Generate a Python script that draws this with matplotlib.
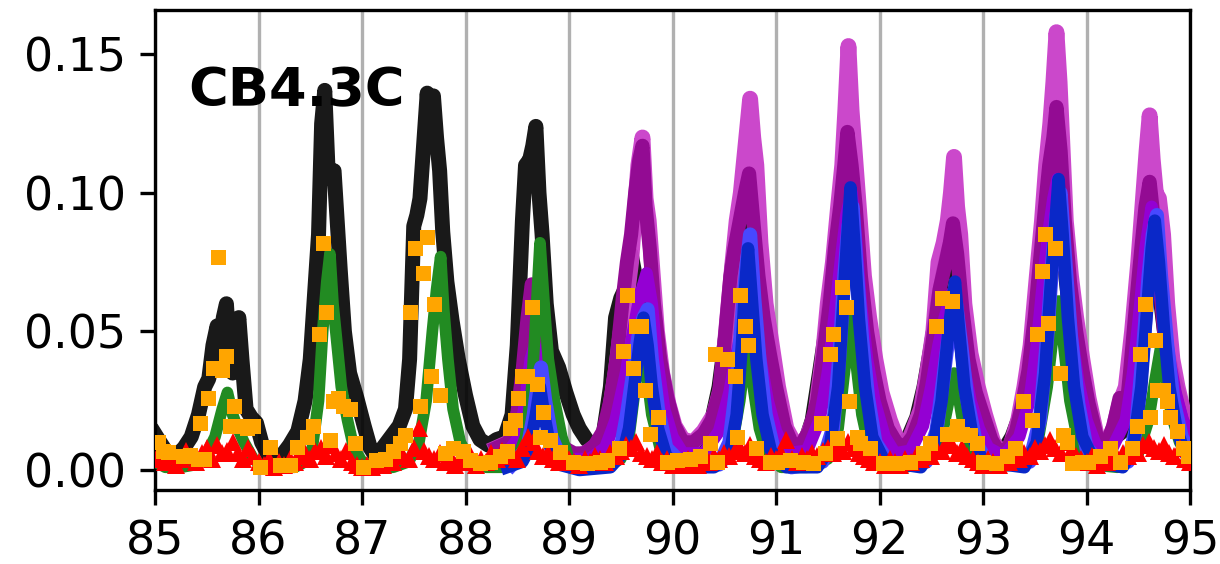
import numpy as np
import matplotlib
matplotlib.use("Agg")
import matplotlib.pyplot as plt

# Black trace
black_x = [85.00, 85.05, 85.12, 85.20, 85.28, 85.35, 85.42, 85.48, 85.52, 85.56, 85.60, 85.63, 85.66,
           85.69, 85.72, 85.75, 85.78, 85.81, 85.84, 85.88, 85.93, 85.98, 86.03, 86.10, 86.20, 86.30,
           86.38, 86.45, 86.50, 86.55, 86.58, 86.61, 86.64, 86.67, 86.70, 86.73, 86.76, 86.79, 86.83,
           86.88, 86.95, 87.02, 87.08, 87.13, 87.20, 87.28, 87.36, 87.42, 87.46, 87.50, 87.53, 87.56,
           87.60, 87.63, 87.66, 87.69, 87.72, 87.75, 87.78, 87.82, 87.87, 87.93, 88.00, 88.07, 88.14,
           88.22, 88.30, 88.38, 88.45, 88.50, 88.55, 88.58, 88.62, 88.65, 88.68, 88.71, 88.74, 88.78,
           88.83, 88.90, 88.97, 89.04, 89.10, 89.17, 89.25, 89.32, 89.40, 89.45, 89.50, 89.55, 89.60,
           89.64, 89.70, 89.76, 89.82, 89.88, 89.95, 90.02, 90.10, 90.20, 90.30, 90.38, 90.45, 90.52,
           90.58, 90.63, 90.68, 90.72, 90.76, 90.80, 90.86, 90.92, 90.98, 91.05, 91.12, 91.20, 91.28,
           91.35, 91.42, 91.48, 91.55, 91.60, 91.65, 91.69, 91.73, 91.78, 91.84, 91.90, 91.97, 92.04,
           92.12, 92.20, 92.28, 92.36, 92.43, 92.50, 92.56, 92.62, 92.67, 92.71, 92.75, 92.80, 92.86,
           92.92, 92.98, 93.05, 93.13, 93.20, 93.28, 93.36, 93.43, 93.48, 93.53, 93.58, 93.63, 93.67,
           93.71, 93.75, 93.80, 93.86, 93.92, 93.98, 94.05, 94.12, 94.20, 94.28, 94.35, 94.42, 94.48,
           94.54, 94.59, 94.63, 94.67, 94.72, 94.77, 94.82, 94.86, 94.90, 94.95, 95.00]
black_y = [0.013, 0.010, 0.006, 0.005, 0.008, 0.012, 0.020, 0.030, 0.033, 0.045, 0.052, 0.040, 0.055,
           0.060, 0.042, 0.035, 0.048, 0.055, 0.040, 0.022, 0.019, 0.017, 0.010, 0.005, 0.004, 0.009,
           0.014, 0.025, 0.040, 0.068, 0.085, 0.125, 0.137, 0.110, 0.105, 0.108, 0.090, 0.072, 0.050,
           0.035, 0.026, 0.016, 0.008, 0.005, 0.008, 0.012, 0.016, 0.022, 0.040, 0.088, 0.092, 0.098,
           0.120, 0.136, 0.118, 0.135, 0.120, 0.108, 0.086, 0.068, 0.054, 0.040, 0.027, 0.016, 0.011,
           0.009, 0.011, 0.012, 0.020, 0.045, 0.090, 0.110, 0.112, 0.117, 0.124, 0.100, 0.085, 0.060,
           0.043, 0.037, 0.028, 0.020, 0.015, 0.011, 0.008, 0.010, 0.030, 0.055, 0.062, 0.066, 0.078,
           0.070, 0.060, 0.045, 0.036, 0.030, 0.020, 0.013, 0.009, 0.008, 0.012, 0.018, 0.030, 0.050,
           0.075, 0.085, 0.088, 0.092, 0.075, 0.060, 0.045, 0.036, 0.028, 0.018, 0.010, 0.007, 0.010,
           0.018, 0.035, 0.050, 0.070, 0.085, 0.095, 0.105, 0.090, 0.070, 0.050, 0.036, 0.025, 0.015,
           0.010, 0.008, 0.012, 0.019, 0.030, 0.045, 0.060, 0.072, 0.080, 0.085, 0.070, 0.052, 0.038,
           0.028, 0.020, 0.012, 0.007, 0.007, 0.012, 0.020, 0.028, 0.032, 0.050, 0.070, 0.090, 0.100,
           0.112, 0.095, 0.070, 0.050, 0.035, 0.025, 0.015, 0.010, 0.008, 0.012, 0.014, 0.030, 0.050,
           0.070, 0.085, 0.090, 0.082, 0.060, 0.045, 0.036, 0.031, 0.026, 0.020, 0.016]

# Light magenta trace
magenta_x = [88.30, 88.42, 88.50, 88.56, 88.60, 88.64, 88.68, 88.72, 88.76, 88.82, 88.90, 89.00, 89.10,
             89.20, 89.30, 89.38, 89.45, 89.50, 89.55, 89.60, 89.64, 89.67, 89.71, 89.74, 89.77, 89.80,
             89.85, 89.90, 89.96, 90.02, 90.10, 90.20, 90.30, 90.40, 90.47, 90.53, 90.58, 90.62, 90.66,
             90.70, 90.75, 90.78, 90.81, 90.85, 90.90, 90.96, 91.02, 91.10, 91.20, 91.30, 91.38, 91.45,
             91.50, 91.55, 91.60, 91.64, 91.67, 91.70, 91.73, 91.76, 91.80, 91.85, 91.90, 91.96, 92.02,
             92.10, 92.18, 92.25, 92.32, 92.40, 92.46, 92.52, 92.57, 92.62, 92.66, 92.69, 92.72, 92.75,
             92.78, 92.82, 92.88, 92.95, 93.02, 93.10, 93.18, 93.26, 93.34, 93.40, 93.46, 93.52, 93.57,
             93.61, 93.65, 93.68, 93.71, 93.74, 93.77, 93.80, 93.85, 93.90, 93.96, 94.02, 94.10, 94.18,
             94.26, 94.32, 94.38, 94.44, 94.50, 94.55, 94.58, 94.61, 94.64, 94.67, 94.70, 94.74, 94.78,
             94.83, 94.88, 94.93, 95.00]
magenta_y = [0.008, 0.010, 0.018, 0.030, 0.045, 0.052, 0.055, 0.045, 0.035, 0.020, 0.010, 0.006, 0.005,
             0.007, 0.010, 0.018, 0.035, 0.050, 0.060, 0.075, 0.095, 0.110, 0.120, 0.098, 0.090, 0.075,
             0.050, 0.035, 0.024, 0.016, 0.011, 0.010, 0.014, 0.020, 0.030, 0.055, 0.075, 0.090, 0.100,
             0.115, 0.134, 0.120, 0.110, 0.082, 0.060, 0.045, 0.030, 0.015, 0.008, 0.012, 0.020, 0.040,
             0.060, 0.075, 0.095, 0.110, 0.130, 0.153, 0.130, 0.115, 0.095, 0.070, 0.055, 0.040, 0.028,
             0.018, 0.010, 0.008, 0.014, 0.022, 0.035, 0.050, 0.075, 0.082, 0.090, 0.100, 0.113, 0.095,
             0.085, 0.060, 0.042, 0.030, 0.020, 0.010, 0.006, 0.008, 0.018, 0.030, 0.045, 0.070, 0.090,
             0.110, 0.125, 0.140, 0.158, 0.140, 0.115, 0.090, 0.070, 0.055, 0.040, 0.026, 0.012, 0.008,
             0.015, 0.024, 0.030, 0.050, 0.075, 0.100, 0.115, 0.128, 0.112, 0.100, 0.098, 0.085, 0.060,
             0.040, 0.030, 0.022, 0.015]

# Dark purple trace
purple_x = [88.30, 88.42, 88.50, 88.55, 88.60, 88.64, 88.68, 88.72, 88.78, 88.85, 88.95, 89.05, 89.15,
            89.25, 89.33, 89.40, 89.46, 89.52, 89.56, 89.60, 89.64, 89.68, 89.71, 89.74, 89.78, 89.82,
            89.88, 89.95, 90.02, 90.10, 90.20, 90.30, 90.38, 90.45, 90.50, 90.56, 90.60, 90.65, 90.70,
            90.74, 90.78, 90.83, 90.88, 90.94, 91.00, 91.08, 91.16, 91.24, 91.32, 91.40, 91.46, 91.52,
            91.57, 91.62, 91.66, 91.69, 91.73, 91.77, 91.82, 91.88, 91.94, 92.00, 92.08, 92.16, 92.24,
            92.32, 92.40, 92.46, 92.52, 92.58, 92.64, 92.68, 92.71, 92.75, 92.80, 92.86, 92.93, 93.00,
            93.08, 93.16, 93.24, 93.32, 93.38, 93.44, 93.50, 93.55, 93.60, 93.64, 93.68, 93.71, 93.75,
            93.79, 93.84, 93.90, 93.96, 94.02, 94.10, 94.18, 94.26, 94.32, 94.38, 94.42, 94.48, 94.53,
            94.57, 94.61, 94.65, 94.70, 94.75, 94.80, 94.86, 94.92, 95.00]
purple_y = [0.008, 0.010, 0.020, 0.035, 0.055, 0.067, 0.060, 0.040, 0.025, 0.014, 0.008, 0.006, 0.006,
            0.009, 0.014, 0.025, 0.040, 0.062, 0.075, 0.085, 0.100, 0.112, 0.117, 0.095, 0.080, 0.060,
            0.040, 0.026, 0.016, 0.010, 0.010, 0.013, 0.018, 0.028, 0.045, 0.070, 0.080, 0.090, 0.100,
            0.107, 0.090, 0.070, 0.055, 0.042, 0.030, 0.016, 0.009, 0.009, 0.014, 0.025, 0.042, 0.060,
            0.080, 0.095, 0.110, 0.122, 0.110, 0.095, 0.070, 0.050, 0.036, 0.025, 0.015, 0.010, 0.008,
            0.012, 0.020, 0.032, 0.048, 0.065, 0.075, 0.082, 0.089, 0.078, 0.058, 0.040, 0.028, 0.020,
            0.011, 0.006, 0.008, 0.014, 0.024, 0.036, 0.055, 0.075, 0.095, 0.110, 0.120, 0.131, 0.115,
            0.090, 0.068, 0.050, 0.036, 0.024, 0.012, 0.008, 0.016, 0.026, 0.020, 0.035, 0.060, 0.080,
            0.095, 0.104, 0.090, 0.070, 0.050, 0.036, 0.026, 0.018, 0.012]

# Violet trace
violet_x = [88.40, 88.52, 88.58, 88.63, 88.67, 88.71, 88.76, 88.85, 89.00, 89.20, 89.35, 89.45, 89.55,
            89.62, 89.68, 89.75, 89.80, 89.85, 89.92, 90.00, 90.10, 90.30, 90.45, 90.55, 90.62, 90.68,
            90.74, 90.79, 90.85, 90.92, 91.00, 91.10, 91.30, 91.42, 91.50, 91.58, 91.64, 91.68, 91.73,
            91.77, 91.82, 91.88, 91.95, 92.05, 92.15, 92.30, 92.42, 92.50, 92.57, 92.63, 92.70, 92.75,
            92.80, 92.88, 92.96, 93.05, 93.20, 93.35, 93.45, 93.52, 93.58, 93.63, 93.68, 93.72, 93.76,
            93.80, 93.86, 93.92, 94.00, 94.10, 94.25, 94.38, 94.45, 94.52, 94.57, 94.63, 94.68, 94.73,
            94.80, 94.86, 94.93, 95.00]
violet_y = [0.006, 0.012, 0.025, 0.040, 0.045, 0.035, 0.020, 0.008, 0.004, 0.004, 0.008, 0.018, 0.035,
            0.050, 0.062, 0.071, 0.060, 0.040, 0.022, 0.012, 0.006, 0.006, 0.014, 0.028, 0.042, 0.052,
            0.060, 0.055, 0.040, 0.025, 0.014, 0.006, 0.007, 0.018, 0.035, 0.060, 0.080, 0.092, 0.100,
            0.085, 0.060, 0.040, 0.025, 0.012, 0.006, 0.007, 0.016, 0.030, 0.045, 0.055, 0.064, 0.055,
            0.040, 0.025, 0.015, 0.008, 0.005, 0.012, 0.025, 0.045, 0.068, 0.085, 0.098, 0.105, 0.090,
            0.070, 0.048, 0.032, 0.018, 0.008, 0.008, 0.018, 0.035, 0.060, 0.080, 0.095, 0.080, 0.060,
            0.040, 0.028, 0.018, 0.012]

# Green trace
green_x = [85.00, 85.10, 85.25, 85.40, 85.50, 85.58, 85.65, 85.70, 85.75, 85.80, 85.86, 85.95, 86.05,
           86.20, 86.35, 86.45, 86.52, 86.58, 86.62, 86.66, 86.69, 86.72, 86.76, 86.80, 86.86, 86.92,
           87.00, 87.15, 87.30, 87.45, 87.55, 87.62, 87.68, 87.72, 87.76, 87.79, 87.83, 87.88, 87.95,
           88.05, 88.20, 88.35, 88.50, 88.58, 88.64, 88.68, 88.72, 88.76, 88.80, 88.86, 88.93, 89.00,
           89.15, 89.35, 89.50, 89.58, 89.64, 89.70, 89.75, 89.80, 89.88, 89.98, 90.20, 90.45, 90.58,
           90.65, 90.70, 90.74, 90.78, 90.84, 90.92, 91.05, 91.30, 91.50, 91.60, 91.66, 91.72, 91.77,
           91.83, 91.90, 92.00, 92.25, 92.50, 92.60, 92.67, 92.72, 92.77, 92.83, 92.92, 93.05, 93.35,
           93.52, 93.62, 93.68, 93.73, 93.78, 93.84, 93.92, 94.02, 94.30, 94.50, 94.60, 94.66, 94.72,
           94.76, 94.82, 94.90, 95.00]
green_y = [0.003, 0.001, 0.001, 0.002, 0.006, 0.012, 0.022, 0.028, 0.020, 0.015, 0.010, 0.004, 0.001,
           0.001, 0.001, 0.003, 0.008, 0.025, 0.050, 0.068, 0.078, 0.060, 0.045, 0.030, 0.018, 0.008,
           0.003, 0.001, 0.001, 0.003, 0.010, 0.025, 0.050, 0.065, 0.077, 0.058, 0.040, 0.022, 0.010,
           0.003, 0.001, 0.001, 0.004, 0.012, 0.030, 0.055, 0.082, 0.060, 0.040, 0.025, 0.012, 0.004,
           0.001, 0.001, 0.004, 0.012, 0.030, 0.050, 0.035, 0.020, 0.008, 0.002, 0.001, 0.002, 0.010,
           0.025, 0.040, 0.045, 0.030, 0.015, 0.005, 0.001, 0.001, 0.004, 0.015, 0.035, 0.054, 0.040,
           0.020, 0.008, 0.002, 0.001, 0.004, 0.012, 0.025, 0.035, 0.025, 0.012, 0.004, 0.001, 0.002,
           0.008, 0.030, 0.050, 0.061, 0.045, 0.025, 0.010, 0.002, 0.001, 0.006, 0.018, 0.032, 0.045,
           0.035, 0.020, 0.010, 0.005]

# Light blue trace
lightblue_x = [88.45, 88.60, 88.66, 88.70, 88.73, 88.77, 88.83, 88.92, 89.10, 89.40, 89.50, 89.56, 89.62,
               89.67, 89.72, 89.76, 89.80, 89.86, 89.94, 90.10, 90.45, 90.55, 90.61, 90.66, 90.71, 90.75,
               90.79, 90.84, 90.90, 90.98, 91.15, 91.45, 91.55, 91.61, 91.66, 91.70, 91.74, 91.78, 91.83,
               91.89, 91.96, 92.10, 92.45, 92.55, 92.62, 92.68, 92.74, 92.79, 92.85, 92.93, 93.05, 93.45,
               93.55, 93.62, 93.67, 93.71, 93.75, 93.79, 93.85, 93.92, 94.00, 94.15, 94.40, 94.48, 94.55,
               94.60, 94.64, 94.68, 94.72, 94.78, 94.84, 94.92, 95.00]
lightblue_y = [0.002, 0.008, 0.020, 0.032, 0.037, 0.025, 0.012, 0.004, 0.001, 0.002, 0.008, 0.020, 0.035,
               0.048, 0.055, 0.058, 0.040, 0.022, 0.008, 0.002, 0.002, 0.010, 0.028, 0.050, 0.072, 0.085,
               0.062, 0.040, 0.020, 0.007, 0.001, 0.003, 0.015, 0.040, 0.070, 0.088, 0.095, 0.072, 0.048,
               0.026, 0.010, 0.002, 0.003, 0.014, 0.034, 0.052, 0.060, 0.045, 0.025, 0.010, 0.002, 0.003,
               0.018, 0.048, 0.075, 0.092, 0.100, 0.078, 0.048, 0.024, 0.008, 0.002, 0.003, 0.015, 0.045,
               0.070, 0.085, 0.092, 0.070, 0.045, 0.025, 0.012, 0.006]

# Dark blue trace
blue_x = [88.40, 88.55, 88.62, 88.68, 88.72, 88.76, 88.82, 88.90, 89.10, 89.40, 89.52, 89.58, 89.63,
          89.68, 89.72, 89.76, 89.80, 89.86, 89.94, 90.10, 90.40, 90.55, 90.62, 90.67, 90.70, 90.73,
          90.77, 90.81, 90.87, 90.95, 91.10, 91.40, 91.52, 91.60, 91.65, 91.69, 91.72, 91.76, 91.80,
          91.86, 91.93, 92.05, 92.40, 92.52, 92.60, 92.66, 92.70, 92.73, 92.77, 92.82, 92.90, 93.00,
          93.40, 93.52, 93.60, 93.66, 93.70, 93.73, 93.77, 93.82, 93.88, 93.96, 94.08, 94.35, 94.45,
          94.53, 94.59, 94.63, 94.66, 94.70, 94.75, 94.80, 94.87, 94.95, 95.00]
blue_y = [0.001, 0.003, 0.008, 0.020, 0.030, 0.020, 0.008, 0.002, 0.000, 0.001, 0.006, 0.015, 0.030,
          0.045, 0.055, 0.045, 0.030, 0.015, 0.005, 0.001, 0.001, 0.005, 0.020, 0.045, 0.065, 0.080,
          0.060, 0.040, 0.020, 0.007, 0.001, 0.001, 0.008, 0.030, 0.060, 0.085, 0.102, 0.080, 0.055,
          0.030, 0.012, 0.003, 0.001, 0.008, 0.025, 0.048, 0.060, 0.068, 0.050, 0.030, 0.012, 0.003,
          0.001, 0.010, 0.035, 0.070, 0.090, 0.105, 0.085, 0.055, 0.030, 0.012, 0.003, 0.001, 0.008,
          0.030, 0.060, 0.080, 0.090, 0.075, 0.050, 0.030, 0.015, 0.006, 0.004]

# Orange square points
orange_x = [85.03, 85.08, 85.13, 85.27, 85.34, 85.43, 85.42, 85.51, 85.56, 85.65, 85.69, 85.61, 85.76,
            85.72, 85.80, 85.89, 85.95, 85.47, 86.01, 86.11, 86.21, 86.30, 86.37, 86.47, 86.53, 86.58,
            86.62, 86.65, 86.69, 86.72, 86.77, 86.82, 86.88, 86.93, 87.01, 87.14, 87.22, 87.30, 87.37,
            87.42, 87.46, 87.51, 87.56, 87.59, 87.63, 87.67, 87.70, 87.75, 87.80, 87.88, 87.98, 88.04,
            88.14, 88.24, 88.33, 88.40, 88.43, 88.48, 88.51, 88.55, 88.59, 88.64, 88.69, 88.75, 88.72,
            88.82, 88.91, 89.04, 89.17, 89.30, 89.37, 89.48, 89.52, 89.56, 89.62, 89.65, 89.70, 89.73,
            89.78, 89.86, 89.95, 90.04, 90.17, 90.27, 90.36, 90.43, 90.41, 90.53, 90.62, 90.60, 90.65,
            90.70, 90.73, 90.81, 90.94, 91.01, 91.14, 91.26, 91.36, 91.43, 91.47, 91.52, 91.55, 91.64,
            91.68, 91.59, 91.71, 91.78, 91.81, 91.91, 92.03, 92.17, 92.29, 92.42, 92.49, 92.55, 92.60,
            92.70, 92.65, 92.75, 92.80, 92.87, 92.94, 93.00, 93.13, 93.23, 93.31, 93.39, 93.47, 93.52,
            93.57, 93.60, 93.63, 93.70, 93.74, 93.77, 93.81, 93.86, 93.96, 94.01, 94.13, 94.23, 94.32,
            94.44, 94.49, 94.52, 94.57, 94.61, 94.66, 94.68, 94.74, 94.78, 94.81, 94.87, 94.93, 94.98]
orange_y = [0.010, 0.007, 0.0065, 0.005, 0.0054, 0.017, 0.004, 0.026, 0.037, 0.036, 0.041, 0.077, 0.023,
            0.016, 0.016, 0.015, 0.016, 0.004, 0.001, 0.0083, 0.002, 0.002, 0.0083, 0.012, 0.016, 0.049,
            0.082, 0.057, 0.011, 0.025, 0.026, 0.023, 0.022, 0.0097, 0.001, 0.0036, 0.004, 0.007, 0.0097,
            0.0126, 0.057, 0.080, 0.023, 0.071, 0.084, 0.034, 0.060, 0.027, 0.006, 0.008, 0.007, 0.0036,
            0.0025, 0.003, 0.005, 0.007, 0.015, 0.018, 0.026, 0.034, 0.034, 0.059, 0.031, 0.021, 0.012,
            0.011, 0.0065, 0.003, 0.0025, 0.003, 0.0036, 0.008, 0.043, 0.063, 0.037, 0.052, 0.052, 0.029,
            0.013, 0.019, 0.003, 0.0036, 0.004, 0.005, 0.0097, 0.003, 0.042, 0.040, 0.012, 0.034, 0.063,
            0.052, 0.045, 0.008, 0.003, 0.003, 0.0036, 0.003, 0.0025, 0.017, 0.006, 0.042, 0.049, 0.066,
            0.059, 0.0115, 0.025, 0.012, 0.0097, 0.008, 0.0025, 0.0025, 0.003, 0.006, 0.0097, 0.052, 0.062,
            0.061, 0.013, 0.016, 0.013, 0.0126, 0.0097, 0.003, 0.0025, 0.005, 0.008, 0.025, 0.018, 0.049,
            0.072, 0.085, 0.053, 0.080, 0.035, 0.0126, 0.0101, 0.0025, 0.003, 0.003, 0.005, 0.008, 0.003,
            0.008, 0.016, 0.042, 0.060, 0.019, 0.047, 0.029, 0.029, 0.025, 0.019, 0.014, 0.008, 0.005]

# Red triangle points, one value every 0.05 from 85.00 to 95.00
red_y = [
    0.004, 0.006, 0.003, 0.005, 0.002, 0.004, 0.007, 0.005, 0.003, 0.006,
    0.008, 0.004, 0.009, 0.006, 0.007, 0.010, 0.006, 0.004, 0.008, 0.005,
    0.003, 0.002, 0.004, 0.001, 0.003, 0.002, 0.004, 0.003, 0.005, 0.006,
    0.004, 0.007, 0.008, 0.005, 0.009, 0.006, 0.004, 0.007, 0.003, 0.002,
    0.001, 0.002, 0.001, 0.003, 0.002, 0.004, 0.003, 0.006, 0.005, 0.004,
    0.008, 0.015, 0.007, 0.005, 0.004, 0.006, 0.003, 0.005, 0.002, 0.004,
    0.003, 0.005, 0.002, 0.004, 0.003, 0.006, 0.004, 0.007, 0.005, 0.006,
    0.004, 0.008, 0.012, 0.010, 0.007, 0.005, 0.006, 0.004, 0.003, 0.005,
    0.004, 0.003, 0.002, 0.004, 0.003, 0.005, 0.004, 0.003, 0.006, 0.005,
    0.007, 0.009, 0.008, 0.010, 0.006, 0.005, 0.004, 0.006, 0.003, 0.004,
    0.002, 0.003, 0.002, 0.004, 0.003, 0.002, 0.004, 0.003, 0.005, 0.004,
    0.006, 0.005, 0.007, 0.008, 0.006, 0.009, 0.005, 0.004, 0.003, 0.005,
    0.004, 0.006, 0.011, 0.004, 0.003, 0.005, 0.004, 0.006, 0.005, 0.007,
    0.008, 0.006, 0.009, 0.007, 0.010, 0.008, 0.006, 0.005, 0.004, 0.003,
    0.003, 0.002, 0.004, 0.003, 0.002, 0.004, 0.003, 0.005, 0.004, 0.006,
    0.005, 0.008, 0.007, 0.010, 0.009, 0.006, 0.008, 0.005, 0.004, 0.003,
    0.002, 0.004, 0.003, 0.002, 0.004, 0.003, 0.005, 0.004, 0.006, 0.005,
    0.008, 0.007, 0.009, 0.011, 0.008, 0.006, 0.010, 0.007, 0.005, 0.004,
    0.003, 0.005, 0.002, 0.004, 0.003, 0.005, 0.004, 0.006, 0.005, 0.007,
    0.006, 0.009, 0.010, 0.008, 0.007, 0.009, 0.006, 0.005, 0.008, 0.004,
    0.003,
]
red_x = np.linspace(85.0, 95.0, len(red_y))

x_ticks = list(range(85, 96))
y_ticks = [0.00, 0.05, 0.10, 0.15]
label = "CB4.3C"

fig = plt.figure(figsize=(1220 / 300, 564 / 300), dpi=300)
ax = fig.add_axes([155 / 1220, 1 - 490 / 564, 1035 / 1220, 480 / 564])

ax.plot(black_x, black_y, color="black", alpha=0.9, lw=3.6, zorder=2)
ax.plot(magenta_x, magenta_y, color="#c93ec9", alpha=0.95, lw=3.8, zorder=3)
ax.plot(purple_x, purple_y, color="#930b93", lw=3.4, zorder=4)
ax.plot(violet_x, violet_y, color="#9400d3", lw=3.0, zorder=5)
ax.plot(green_x, green_y, color="forestgreen", lw=2.8, zorder=6)
ax.plot(lightblue_x, lightblue_y, color="#4848ff", lw=3.4, zorder=7)
ax.plot(blue_x, blue_y, color="#0a28c8", lw=3.0, zorder=8)
ax.plot(red_x, red_y, ls="none", marker="^", ms=4.2, color="red", mew=0, zorder=9)
ax.plot(orange_x, orange_y, ls="none", marker="s", ms=3.6, color="orange", mew=0, zorder=10)

ax.set_xlim(85, 95)
ax.set_ylim(-0.0072, 0.166)
ax.set_xticks(x_ticks)
ax.set_yticks(y_ticks)
ax.set_yticklabels([f"{v:.2f}" for v in y_ticks])
ax.tick_params(labelsize=11)
ax.grid(axis="x", color="#b0b0b0", lw=0.8, zorder=0)
ax.set_axisbelow(True)

ax.text(0.032, 0.80, label, transform=ax.transAxes, fontsize=13, fontweight="bold",
        va="baseline", ha="left", zorder=11)

fig.savefig("out.png", dpi=300)
